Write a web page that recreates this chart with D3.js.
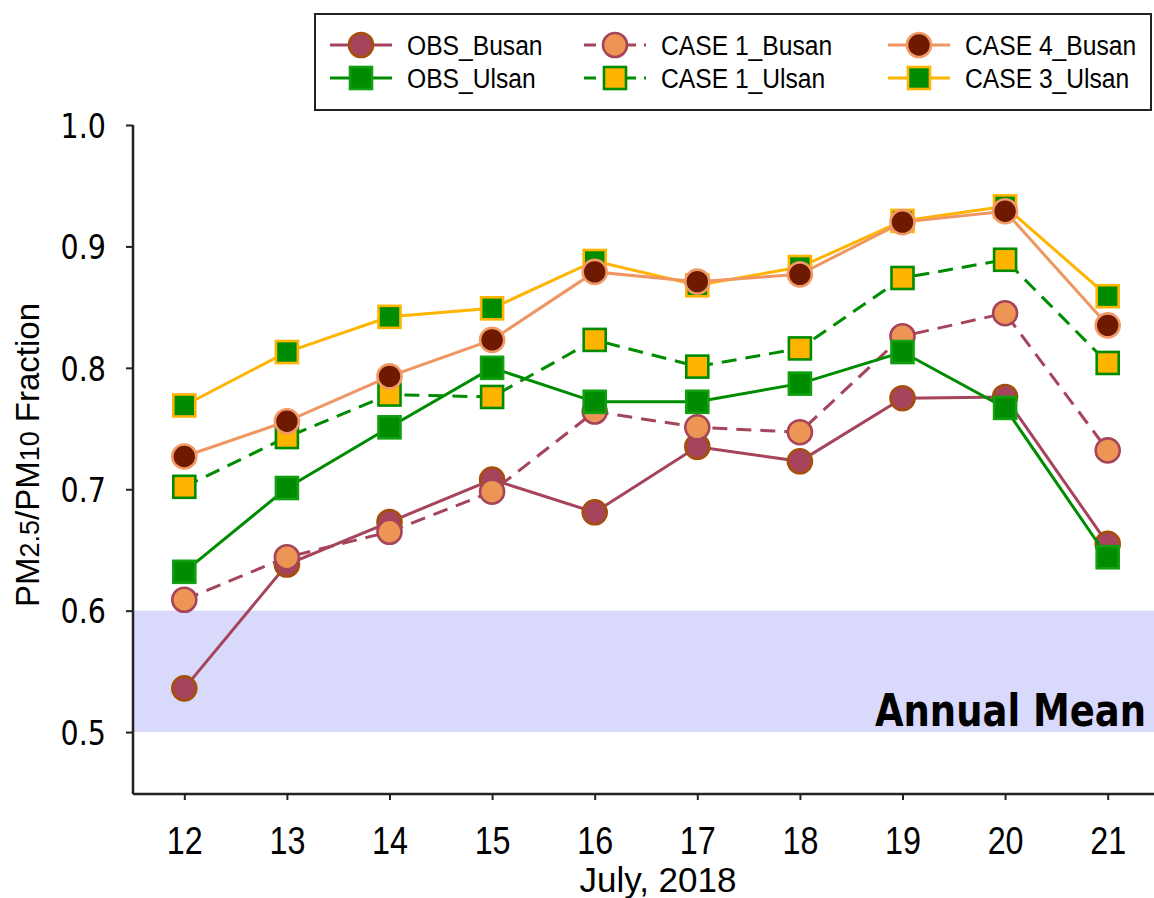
<!DOCTYPE html>
<html>
<head>
<meta charset="utf-8">
<script src="https://cdn.jsdelivr.net/npm/d3@7"></script>
<style>
  html, body { margin: 0; padding: 0; background: #fff; }
  svg { display: block; }
</style>
</head>
<body>
<svg id="chart" width="1154" height="898"></svg>
<script>
// Days of July 2018
const days = [12, 13, 14, 15, 16, 17, 18, 19, 20, 21];

// PM2.5/PM10 fraction per day
const obsBusan   = [0.536, 0.638, 0.673, 0.708, 0.681, 0.735, 0.723, 0.775, 0.776, 0.655];
const case1Busan = [0.609, 0.644, 0.665, 0.698, 0.764, 0.751, 0.747, 0.826, 0.845, 0.732];
const case4Busan = [0.727, 0.756, 0.793, 0.823, 0.879, 0.871, 0.877, 0.920, 0.929, 0.835];
const obsUlsan   = [0.632, 0.701, 0.751, 0.800, 0.772, 0.772, 0.787, 0.813, 0.767, 0.644];
const case1Ulsan = [0.702, 0.743, 0.778, 0.776, 0.823, 0.801, 0.816, 0.874, 0.889, 0.804];
const case3Ulsan = [0.769, 0.813, 0.842, 0.849, 0.888, 0.868, 0.883, 0.921, 0.933, 0.859];

const yTicks = [0.5, 0.6, 0.7, 0.8, 0.9, 1.0];
const annualMeanBand = [0.5, 0.6];
const yMin = 0.449, yMax = 1.0;

// Series styling (drawing order = stacking order)
const series = [
  { name: "OBS_Busan",    values: obsBusan,   shape: "circle", line: "#a5445a", fill: "#a5445a", stroke: "#a54f0c", dash: null },
  { name: "CASE 1_Busan", values: case1Busan, shape: "circle", line: "#a5445a", fill: "#ec9555", stroke: "#a5445a", dash: "15,9" },
  { name: "OBS_Ulsan",    values: obsUlsan,   shape: "square", line: "#008c00", fill: "#008c00", stroke: "#10a010", dash: null },
  { name: "CASE 1_Ulsan", values: case1Ulsan, shape: "square", line: "#008c00", fill: "#ffb400", stroke: "#008c00", dash: "15,9" },
  { name: "CASE 3_Ulsan", values: case3Ulsan, shape: "square", line: "#ffb400", fill: "#008c00", stroke: "#ffb400", dash: null },
  { name: "CASE 4_Busan", values: case4Busan, shape: "circle", line: "#ef9662", fill: "#6e1a00", stroke: "#f29a66", dash: null }
];

// Legend grid: columns of two entries
const legendColumns = [
  ["OBS_Busan", "OBS_Ulsan"],
  ["CASE 1_Busan", "CASE 1_Ulsan"],
  ["CASE 4_Busan", "CASE 3_Ulsan"]
];

const svg = d3.select("#chart");
const plot = { left: 133, right: 1159, top: 125, bottom: 794 };

const x = d3.scaleLinear().domain([11.5, 21.5]).range([plot.left, plot.right]);
const y = d3.scaleLinear().domain([yMin, yMax]).range([plot.bottom, plot.top]);

// Annual mean band
svg.append("rect")
  .attr("x", plot.left).attr("width", plot.right - plot.left)
  .attr("y", y(annualMeanBand[1]))
  .attr("height", y(annualMeanBand[0]) - y(annualMeanBand[1]))
  .attr("fill", "#d9d9fb");

svg.append("text")
  .attr("transform", `translate(1146, ${y(annualMeanBand[0]) - 6}) scale(0.84,1)`)
  .attr("text-anchor", "end")
  .attr("font-family", "DejaVu Sans")
  .attr("font-weight", "bold")
  .attr("font-size", 44)
  .attr("fill", "#000")
  .text("Annual Mean");

// Axes
const yAxis = d3.axisLeft(y).tickValues(yTicks).tickSize(7).tickFormat(d3.format(".1f"));
const gy = svg.append("g").attr("transform", `translate(${plot.left},0)`).call(yAxis);
gy.select(".domain").attr("d", `M0,${plot.top}V${plot.bottom}`).attr("stroke", "#222").attr("stroke-width", 2.5);
gy.selectAll(".tick line").attr("stroke", "#222").attr("stroke-width", 2);
gy.selectAll(".tick text").remove();
gy.selectAll(".tick").append("text")
  .attr("transform", "translate(-27,0) scale(0.84,1)")
  .attr("text-anchor", "end")
  .attr("dy", "0.36em")
  .attr("font-family", "DejaVu Sans")
  .attr("font-size", 34)
  .attr("fill", "#000")
  .text(d => d3.format(".1f")(d));

const xAxis = d3.axisBottom(x).tickValues(days).tickSize(6).tickFormat(d3.format("d"));
const gx = svg.append("g").attr("transform", `translate(0,${plot.bottom})`).call(xAxis);
gx.select(".domain").attr("d", `M${plot.left},0H${plot.right}`).attr("stroke", "#222").attr("stroke-width", 2.5);
gx.selectAll(".tick line").attr("stroke", "#222").attr("stroke-width", 2);
gx.selectAll(".tick text").remove();
gx.selectAll(".tick").append("text")
  .attr("transform", "translate(0,60) scale(0.85,1)")
  .attr("text-anchor", "middle")
  .attr("font-family", "Liberation Sans")
  .attr("font-size", 38)
  .attr("fill", "#000")
  .text(d => d);

svg.append("text")
  .attr("x", 658).attr("y", 892)
  .attr("text-anchor", "middle")
  .attr("font-family", "Liberation Sans")
  .attr("font-size", 35)
  .attr("fill", "#000")
  .text("July, 2018");

// Y-axis title with smaller numerals
const yTitle = svg.append("text")
  .attr("transform", "translate(39,455) rotate(-90)")
  .attr("text-anchor", "middle")
  .attr("font-family", "Liberation Sans")
  .attr("font-size", 33)
  .attr("fill", "#000");
yTitle.append("tspan").text("PM");
yTitle.append("tspan").attr("font-size", 27).text("2.5");
yTitle.append("tspan").text("/PM");
yTitle.append("tspan").attr("font-size", 27).text("10");
yTitle.append("tspan").text(" Fraction");

// Marker drawing helper
function drawMarker(g, shape, cx, cy, s) {
  if (shape === "circle") {
    g.append("circle").attr("cx", cx).attr("cy", cy).attr("r", 12)
      .attr("fill", s.fill).attr("stroke", s.stroke).attr("stroke-width", 2.6);
  } else {
    g.append("rect").attr("x", cx - 11).attr("y", cy - 11).attr("width", 22).attr("height", 22)
      .attr("fill", s.fill).attr("stroke", s.stroke).attr("stroke-width", 2.6);
  }
}

const lineGen = d3.line().x((d, i) => x(days[i])).y(d => y(d));

series.forEach(s => {
  const g = svg.append("g");
  g.append("path")
    .attr("d", lineGen(s.values))
    .attr("fill", "none")
    .attr("stroke", s.line)
    .attr("stroke-width", 3)
    .attr("stroke-dasharray", s.dash);
  s.values.forEach((v, i) => drawMarker(g, s.shape, x(days[i]), y(v), s));
});

// Legend
const legend = svg.append("g");
legend.append("rect")
  .attr("x", 315).attr("y", 14).attr("width", 836).attr("height", 96)
  .attr("fill", "#fff").attr("stroke", "#222").attr("stroke-width", 2);

const colX = [330, 584, 888];
const rowY = [45, 78];
legendColumns.forEach((col, ci) => {
  col.forEach((name, ri) => {
    const s = series.find(d => d.name === name);
    const lx = colX[ci], ly = rowY[ri];
    legend.append("line")
      .attr("x1", lx).attr("x2", lx + 62).attr("y1", ly).attr("y2", ly)
      .attr("stroke", s.line).attr("stroke-width", 3)
      .attr("stroke-dasharray", s.dash ? "12,8" : null);
    drawMarker(legend, s.shape, lx + 31, ly, s);
    legend.append("text")
      .attr("transform", `translate(${lx + 77},${ly + 10}) scale(0.88,1)`)
      .attr("font-family", "Liberation Sans")
      .attr("font-size", 28)
      .attr("fill", "#000")
      .text(name);
  });
});
</script>
</body>
</html>
